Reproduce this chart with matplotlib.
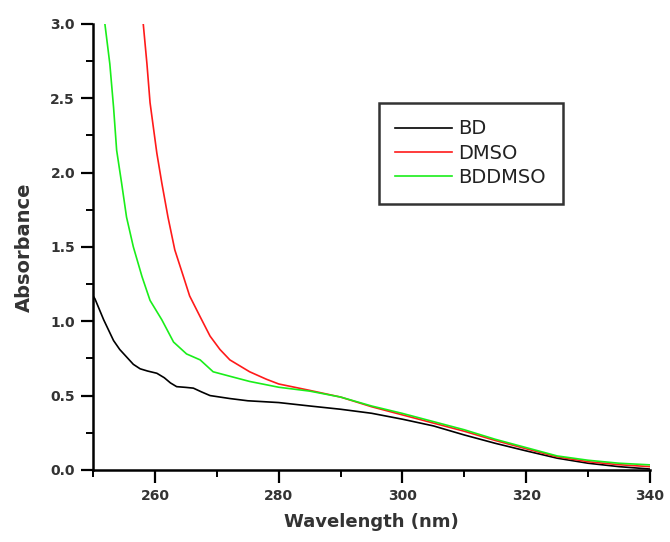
import numpy as np
import matplotlib
matplotlib.use('Agg')
import matplotlib.pyplot as plt
from matplotlib.ticker import MultipleLocator, FormatStrFormatter

plt.rcParams['font.family'] = ['DejaVu Sans']

# Werte (Wellenlänge nm, Absorbanz)
bd_x = [250, 250.3, 251.7, 252.5, 253.3, 254.3, 255.4, 256.5, 257.6, 258.8, 260.3, 261.5,
        262.5, 263.5, 265, 266.2, 267.5, 268.9, 270.5, 272.1, 275, 280, 285, 290, 295,
        300, 305, 310, 315, 320, 325, 330, 335, 340]
bd_y = [1.17, 1.15, 1.01, 0.94, 0.87, 0.81, 0.76, 0.71, 0.68, 0.665, 0.65, 0.62,
        0.585, 0.56, 0.555, 0.55, 0.525, 0.50, 0.49, 0.48, 0.465, 0.453, 0.43, 0.408, 0.381,
        0.341, 0.296, 0.235, 0.179, 0.128, 0.079, 0.045, 0.022, 0.006]

dmso_x = [258.1, 258.7, 259.2, 260.3, 261.1, 262.1, 263.2, 264.6, 265.6, 267.3, 268.9,
          270.5, 272.1, 275.3, 278, 280, 285, 290, 295, 300, 305, 310, 315, 320, 325,
          330, 335, 340]
dmso_y = [3.0, 2.73, 2.47, 2.13, 1.93, 1.70, 1.48, 1.30, 1.17, 1.03, 0.90,
          0.81, 0.74, 0.66, 0.61, 0.578, 0.535, 0.49, 0.425, 0.37, 0.315, 0.26, 0.198, 0.142,
          0.088, 0.055, 0.035, 0.022]

bddmso_x = [251.9, 252.7, 253.3, 253.8, 254.6, 255.4, 256.5, 257.9, 259.2, 261.1, 263.0,
            265.1, 267.3, 269.4, 272.1, 275.3, 280, 285, 290, 295, 300, 305, 310, 315,
            320, 325, 330, 335, 340]
bddmso_y = [3.0, 2.73, 2.44, 2.15, 1.93, 1.70, 1.50, 1.30, 1.14, 1.01, 0.86,
            0.78, 0.74, 0.66, 0.63, 0.595, 0.556, 0.53, 0.49, 0.43, 0.38, 0.325, 0.27, 0.206,
            0.15, 0.094, 0.065, 0.045, 0.034]

fig = plt.figure(figsize=(6.7, 5.42), dpi=100)
ax = fig.add_axes([0.139, 0.133, 0.831, 0.823])

ax.plot(bd_x, bd_y, color='black', lw=1.2, label='BD')
ax.plot(dmso_x, dmso_y, color='#ff1a1a', lw=1.2, label='DMSO')
ax.plot(bddmso_x, bddmso_y, color='#1aee1a', lw=1.2, label='BDDMSO')

ax.set_xlim(250, 340)
ax.set_ylim(0, 3.0)
ax.xaxis.set_major_locator(MultipleLocator(20))
ax.xaxis.set_minor_locator(MultipleLocator(10))
ax.yaxis.set_major_locator(MultipleLocator(0.5))
ax.yaxis.set_minor_locator(MultipleLocator(0.25))
ax.xaxis.set_major_formatter(FormatStrFormatter('%d'))
ax.yaxis.set_major_formatter(FormatStrFormatter('%.1f'))

for s in ['top', 'right']:
    ax.spines[s].set_visible(False)
for s in ['left', 'bottom']:
    ax.spines[s].set_linewidth(1.8)

ax.tick_params(which='major', direction='out', length=9, width=1.6, labelsize=10,
               labelcolor='#333333')
ax.tick_params(which='minor', direction='out', length=5, width=1.4)
ax.tick_params(axis='x', pad=5)
ax.tick_params(axis='y', pad=4)
for lbl in ax.get_xticklabels() + ax.get_yticklabels():
    lbl.set_fontweight('bold')

ax.set_xlabel('Wavelength (nm)', fontsize=13, fontweight='bold', color='#333333',
              labelpad=7)
ax.set_ylabel('Absorbance', fontsize=14, fontweight='bold', color='#333333', labelpad=12)

leg = ax.legend(loc='upper left', bbox_to_anchor=(0.513, 0.823), fontsize=14,
                frameon=True, fancybox=False, handlelength=2.9, borderpad=0.85,
                labelspacing=0.28, handletextpad=0.35, borderaxespad=0)
leg.get_frame().set_edgecolor('black')
leg.get_frame().set_linewidth(1.8)
for t in leg.get_texts():
    t.set_color('#222222')

fig.savefig('out.png', dpi=100)
